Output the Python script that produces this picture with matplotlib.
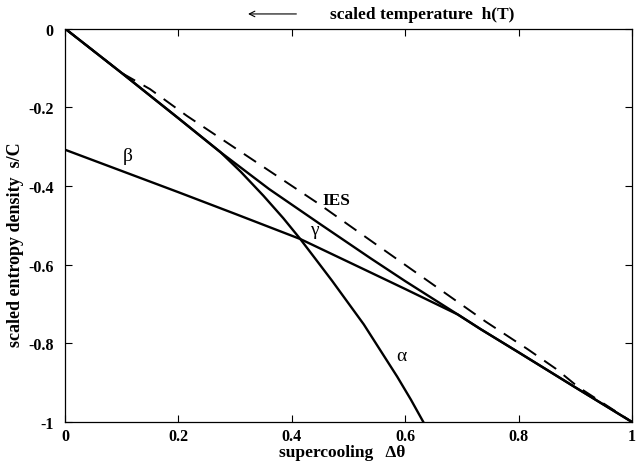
import matplotlib
matplotlib.use('Agg')
import matplotlib.pyplot as plt

# values
alpha_x = [0.0, 0.1, 0.2, 0.274, 0.31, 0.35, 0.385, 0.415, 0.442, 0.471, 0.527, 0.586, 0.61, 0.632]
alpha_y = [0.0, -0.113, -0.228, -0.314, -0.364, -0.425, -0.482, -0.535, -0.586, -0.641, -0.752, -0.885, -0.943, -1.0]

gamma_x = [0.0, 0.1, 0.2, 0.274, 0.36, 0.45, 0.539, 0.6, 0.693, 0.733, 0.8, 0.9, 1.0]
gamma_y = [0.0, -0.113, -0.228, -0.314, -0.408, -0.497, -0.584, -0.642, -0.727, -0.764, -0.823, -0.912, -1.0]

beta_x = [0.0, 0.1, 0.2, 0.3, 0.415, 0.52, 0.6, 0.693, 0.733, 0.8, 0.9, 1.0]
beta_y = [-0.308, -0.362, -0.416, -0.471, -0.535, -0.607, -0.662, -0.727, -0.764, -0.823, -0.912, -1.0]

ies_x = [0.0, 0.1, 0.15, 0.215, 0.447, 0.548, 0.742, 0.816, 0.866, 0.905, 1.0]
ies_y = [0.0, -0.113, -0.154, -0.222, -0.445, -0.548, -0.745, -0.815, -0.865, -0.911, -1.0]

xticks = [0, 0.2, 0.4, 0.6, 0.8, 1]
xtick_labels = ['0', '0.2', '0.4', '0.6', '0.8', '1']
yticks = [0, -0.2, -0.4, -0.6, -0.8, -1]
ytick_labels = ['0', '-0.2', '-0.4', '-0.6', '-0.8', '-1']

plt.rcParams['font.family'] = ['Liberation Serif', 'DejaVu Serif']

fig = plt.figure(figsize=(6.42, 4.64), dpi=100)
ax = fig.add_axes([0.1012, 0.0884, 0.8832, 0.848])

lw = 1.7
ax.plot(alpha_x, alpha_y, color='black', lw=lw)
ax.plot(gamma_x, gamma_y, color='black', lw=lw)
ax.plot(beta_x, beta_y, color='black', lw=lw)
ax.plot(ies_x, ies_y, color='black', lw=1.4, dashes=(7.5, 5))

ax.text(0.111, -0.324, '\u03b2', fontsize=14, ha='center', va='center')
ax.text(0.44, -0.512, '\u03b3', fontsize=14, ha='center', va='center')
ax.text(0.594, -0.832, '\u03b1', fontsize=14, ha='center', va='center')
ax.text(0.479, -0.436, 'IES', fontsize=12.5, fontweight='bold', ha='center', va='center')

ax.set_xlim(0, 1)
ax.set_ylim(-1, 0)
ax.set_xticks(xticks)
ax.set_xticklabels(xtick_labels, fontweight='bold', fontsize=11.5)
ax.set_yticks(yticks)
ax.set_yticklabels(ytick_labels, fontweight='bold', fontsize=11.5)
ax.tick_params(direction='in', length=5, width=0.8, top=True, right=True)
ax.tick_params(axis='y', pad=8)
ax.tick_params(axis='x', pad=4)
for s in ax.spines.values():
    s.set_linewidth(0.9)

ax.set_xlabel('supercooling   \u0394\u03b8', fontweight='bold', fontsize=12.5)
ax.xaxis.set_label_coords(0.489, -0.056)
ax.set_ylabel('scaled entropy density  s/C', fontweight='bold', fontsize=13)
ax.yaxis.set_label_coords(-0.072, 0.452)

# top annotation with arrow pointing left
ax.annotate('', xy=(0.318, 1.037), xytext=(0.413, 1.037), xycoords='axes fraction',
            arrowprops=dict(arrowstyle='->', lw=0.8, color='black'))
ax.text(0.468, 1.037, 'scaled temperature  h(T)', transform=ax.transAxes,
        fontweight='bold', fontsize=12.5, ha='left', va='center')

fig.savefig('out.png', dpi=100)
